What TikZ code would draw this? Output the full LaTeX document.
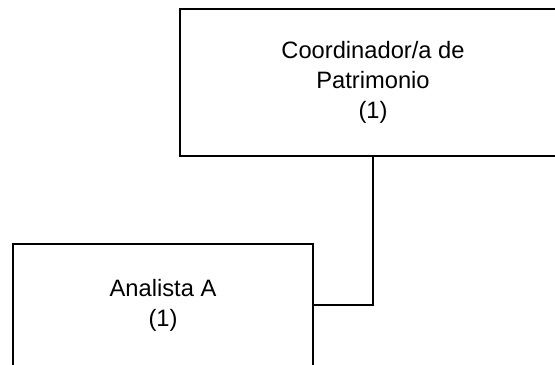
\documentclass[tikz,border=0pt]{standalone}
\usepackage{fontspec}
\setmainfont{Liberation Sans}
\usetikzlibrary{positioning}

\begin{document}
\begin{tikzpicture}
		[x=0.5pt,y=-0.5pt,
		unit/.style={draw,line width=1pt,rectangle,align=center,inner sep=0pt,outer sep=0pt,
			font=\fontsize{11.85}{15}\selectfont},
		link/.style={line width=0.9pt}
		]
		
		% frame
		\useasboundingbox (0,0) rectangle (555,364);
		\clip (0,0) rectangle (555,364);
		
		\node[unit,minimum width=193pt,minimum height=73.5pt] (coord) at (373,82.5)
			{Coordinador/a de\\Patrimonio\\(1)};
		\node[unit,minimum width=150pt,minimum height=61pt] (analista) at (163,305)
			{Analista A\\(1)};
		
		\draw[link] (coord.south) |- (analista.east);
	\end{tikzpicture}
\end{document}
